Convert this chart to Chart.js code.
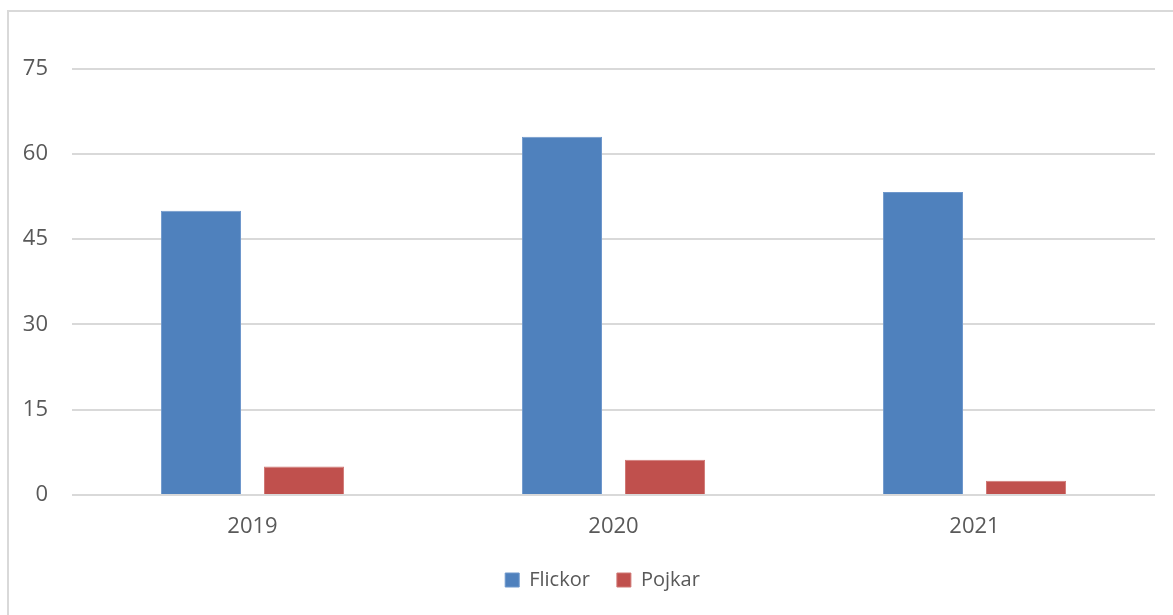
<!DOCTYPE html>
<html>
<head>
<meta charset="utf-8">
<script src="https://cdn.jsdelivr.net/npm/chart.js@4/dist/chart.umd.min.js"></script>
<style>
  html, body { margin: 0; padding: 0; background: #fff; }
  #wrap { position: relative; width: 1173px; height: 615px; overflow: hidden; }
  #frame { position: absolute; left: 7px; top: 10px; width: 1200px; height: 700px;
           border-left: 2px solid #d9d9d9; border-top: 2px solid #d9d9d9; }
  canvas { position: absolute; left: 0; top: 0; }
</style>
</head>
<body>
<div id="wrap">
  <div id="frame"></div>
  <canvas id="c" width="1173" height="615"></canvas>
</div>
<script>
const categories = ["2019", "2020", "2021"];
const flickor = [50, 63, 53.3];
const pojkar = [5, 6.2, 2.5];
const yTicks = [0, 15, 30, 45, 60, 75];

const FONT = "'Open Sans', 'Noto Sans', sans-serif";
const TEXT = "#595959";

const shiftLegend = {
  id: "shiftLegend",
  afterLayout(chart) {
    const lg = chart.legend;
    if (!lg) return;
    const dx = 25;
    lg.left += dx; lg.right += dx;
    if (lg.legendHitBoxes) lg.legendHitBoxes.forEach(h => { h.left += dx; });
  }
};

new Chart(document.getElementById("c"), {
  type: "bar",
  data: {
    labels: categories,
    datasets: [
      { label: "Flickor", data: flickor, backgroundColor: "#4F81BD", borderColor: "#6f98cc", borderWidth: 1,
        categoryPercentage: 0.571, barPercentage: 0.777 },
      { label: "Pojkar", data: pojkar, backgroundColor: "#C0504D", borderColor: "#d07875", borderWidth: 1,
        categoryPercentage: 0.571, barPercentage: 0.777 }
    ]
  },
  plugins: [shiftLegend],
  options: {
    responsive: false,
    animation: false,
    layout: { padding: { top: 68.5, right: 18, bottom: 15, left: 0 } },
    plugins: {
      legend: {
        position: "bottom",
        labels: { font: { family: FONT, size: 20 }, color: TEXT, boxWidth: 14, boxHeight: 14, padding: 27 }
      },
      tooltip: { enabled: false }
    },
    scales: {
      x: {
        grid: { display: false, drawTicks: false },
        border: { display: false },
        ticks: { font: { family: FONT, size: 22 }, color: TEXT, padding: 19 },
        afterFit: s => { s.height = 48; }
      },
      y: {
        min: 0, max: 75,
        afterBuildTicks: s => { s.ticks = yTicks.map(v => ({ value: v })); },
        grid: { color: "#d9d9d9", lineWidth: 2, drawTicks: false },
        border: { display: false },
        ticks: { font: { family: FONT, size: 22 }, color: TEXT, padding: 24 },
        afterFit: s => { s.width = 72; }
      }
    }
  }
});
</script>
</body>
</html>
